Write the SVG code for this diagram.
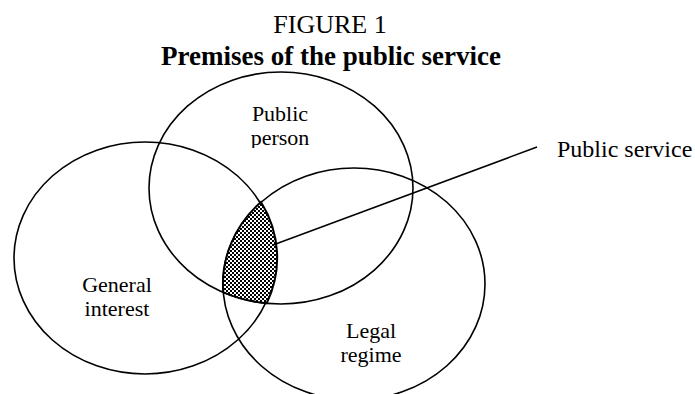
<svg xmlns="http://www.w3.org/2000/svg" width="695" height="394" viewBox="0 0 695 394">
<style>
.t{font-family:"Liberation Serif","Times New Roman",serif;fill:#000}
.lbl{font-size:22px;text-anchor:middle}
.ring{fill:none;stroke:#000;stroke-width:1.6}
.conn{stroke:#000;stroke-width:1.6;fill:none}
</style>
<defs>
<pattern id="chk" width="4" height="4" patternUnits="userSpaceOnUse">
<rect width="4" height="4" fill="#fff"/>
<rect width="2" height="2" fill="#000"/>
<rect x="2" y="2" width="2" height="2" fill="#000"/>
</pattern>
<clipPath id="pclip"><rect x="200" y="90" width="160" height="58"/></clipPath>
</defs>
<rect width="695" height="394" fill="#fff"/>
<g id="title">
<text class="t" x="330" y="33" font-size="26" text-anchor="middle">FIGURE 1</text>
<text class="t" x="331" y="65" font-size="27" font-weight="bold" text-anchor="middle">Premises of the public service</text>
</g>
<g id="general-interest">
<ellipse class="ring" cx="145" cy="258" rx="131" ry="116"/>
<text class="t lbl" x="117" y="292">General</text>
<text class="t lbl" x="117" y="316">interest</text>
</g>
<g id="public-person">
<ellipse class="ring" cx="281" cy="188" rx="132" ry="116"/>
<g clip-path="url(#pclip)">
<text class="t lbl" x="280" y="121" font-size="24">Public</text>
<text class="t lbl" x="280" y="145" font-size="24">person</text>
</g>
</g>
<g id="legal-regime">
<ellipse class="ring" cx="354" cy="284" rx="131" ry="116"/>
<text class="t lbl" x="371" y="338">Legal</text>
<text class="t lbl" x="371" y="362">regime</text>
</g>
<g id="public-service">
<path d="M261,202 A131,116 0 0 0 223.3,292.3 A132,116 0 0 0 266.7,303.3 A131,116 0 0 0 261,202 Z" fill="url(#chk)" stroke="#000" stroke-width="2"/>
<text class="t" x="557" y="157" font-size="24">Public service</text>
</g>
<g id="connectors">
<line class="conn" x1="273" y1="245" x2="537" y2="147"/>
</g>
</svg>
